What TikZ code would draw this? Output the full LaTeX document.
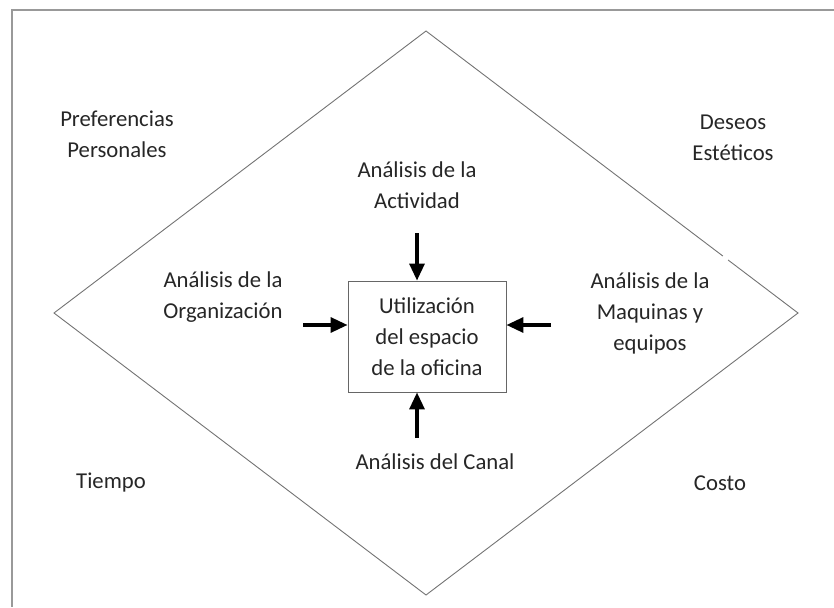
\documentclass[tikz,border=0pt]{standalone}
\usepackage{fontspec}
\setmainfont{Carlito}
\usetikzlibrary{arrows.meta,calc}
\tikzset{
  lbl/.style={align=center, font=\fontsize{22.7}{31}\selectfont, text=black!85, inner sep=0pt},
  edge/.style={draw=black!55, line width=0.9pt},
  bigarrow/.style={-{Triangle[length=17pt,width=15pt]}, line width=3.2pt, black},
  frame/.style={draw=black!40, line width=1.5pt}
}
\begin{document}
\begin{tikzpicture}[x=1pt,y=-1pt]
\useasboundingbox (0,0) rectangle (834,607);
% frame (cropped)
\draw[frame] (834,10) -- (12,10) -- (12,607);
% diamond
\coordinate (dt) at (426,31);
\coordinate (dr) at (798,313);
\coordinate (db) at (426,595);
\coordinate (dl) at (54,313);
\draw[edge] ($(dt)!0.812!(dr)$) -- (dr) -- (db) -- (dl) -- (dt) -- ($(dt)!0.798!(dr)$);
% central box
\node[draw=black!60, line width=0.9pt, minimum width=158pt, minimum height=111pt, inner sep=0pt] (box) at (427,336.5) {};
\node[lbl] (center) at (427,337) {Utilización\\del espacio\\de la oficina};
% labels
\node[lbl] (pref) at (117,134) {Preferencias\\Personales};
\node[lbl] (deseo) at (733,138) {Deseos\\Estéticos};
\node[lbl] (act) at (417,185) {Análisis de la\\Actividad};
\node[lbl] (org) at (223,297) {Análisis de la\\Organización};
\node[lbl] (maq) at (650,313) {Análisis de la\\Maquinas y\\equipos};
\node[lbl] (canal) at (435,462) {Análisis del Canal};
\node[lbl] (tiempo) at (111,483) {Tiempo};
\node[lbl] (costo) at (720,483) {Costo};
% arrows
\coordinate (at) at (417,233);
\coordinate (al) at (303,325);
\coordinate (ar) at (551,325);
\coordinate (ab) at (417,438);
\draw[bigarrow] (at) -- (at |- box.north);
\draw[bigarrow] (al) -- (al -| box.west);
\draw[bigarrow] (ar) -- (ar -| box.east);
\draw[bigarrow] (ab) -- (ab |- box.south);
\end{tikzpicture}
\end{document}
